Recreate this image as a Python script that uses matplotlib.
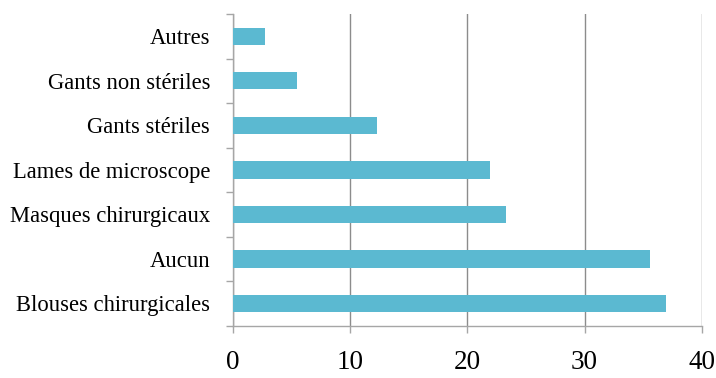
import matplotlib.pyplot as plt
import numpy as np

# Categories from bottom to top
categories = ['Blouses chirurgicales', 'Aucun', 'Masques chirurgicaux',
              'Lames de microscope', 'Gants stériles', 'Gants non stériles', 'Autres']
values = [36.97, 35.6, 23.3, 21.9, 12.33, 5.47, 2.73]
xticks = [0, 10, 20, 30, 40]

plt.rcParams['font.family'] = ['Liberation Serif', 'DejaVu Serif']

fig = plt.figure(figsize=(7.16, 3.78), dpi=100)
ax = fig.add_axes([0.3254, 0.1384, 0.980 - 0.3254, 0.963 - 0.1384])

y = np.arange(len(categories))
ax.barh(y, values, height=0.39, color='#5bb9d1', zorder=3)

ax.set_xlim(0, 40)
ax.set_ylim(-0.5, len(categories) - 0.5)
ax.set_xticks(xticks)
ax.set_xticklabels([str(t) for t in xticks], fontsize=19.5)
ax.set_yticks(y)
ax.set_yticklabels(categories, fontsize=16.3)
# tick marks sit between categories
ax.set_yticks(np.arange(-0.5, len(categories)), minor=True)
ax.tick_params(axis='y', which='major', length=0, pad=16.5)
ax.tick_params(axis='y', which='minor', length=4.7, color='#a6a6a6', width=1)
ax.tick_params(axis='x', length=5, color='#a6a6a6', width=1, pad=12.5)

ax.grid(axis='x', color='#8c8c8c', linewidth=1, zorder=0)
for s in ['top', 'right']:
    ax.spines[s].set_visible(False)
for s in ['left', 'bottom']:
    ax.spines[s].set_color('#a6a6a6')
    ax.spines[s].set_linewidth(1)

fig.savefig('out.png', dpi=100)
